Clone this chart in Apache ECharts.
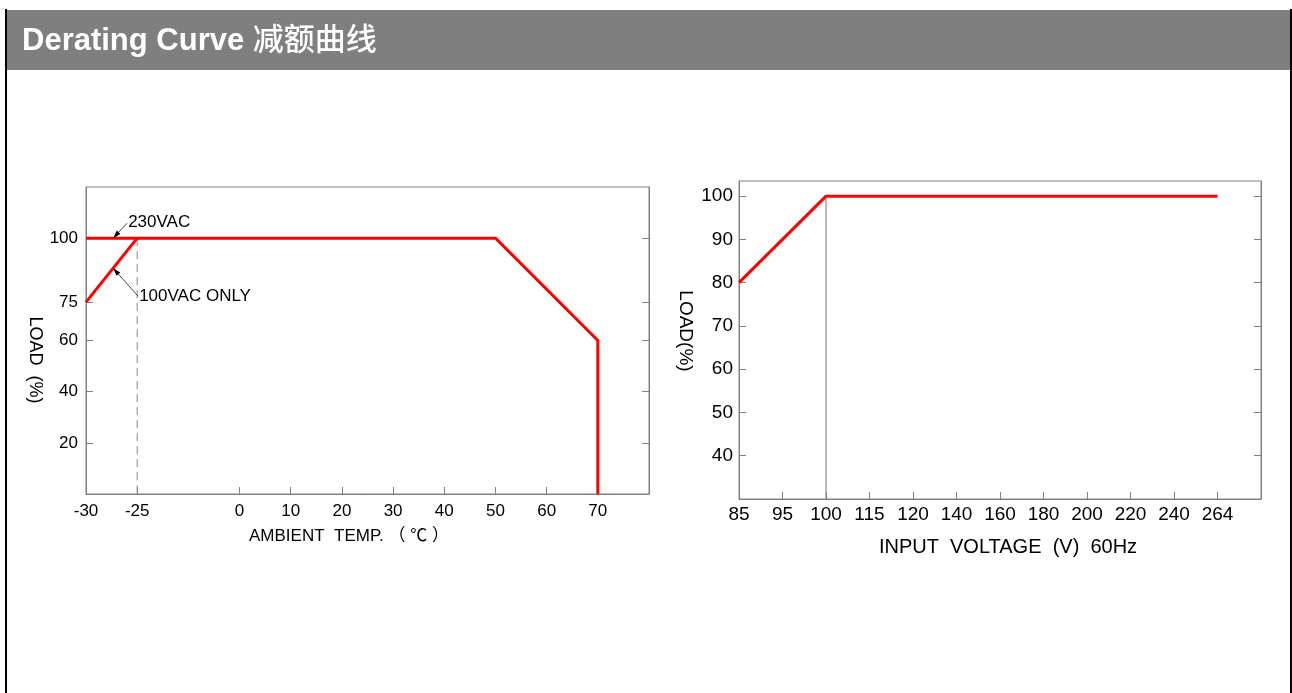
<!DOCTYPE html>
<html>
<head>
<meta charset="utf-8">
<script src="https://cdn.jsdelivr.net/npm/echarts@6/dist/echarts.min.js"></script>
<style>
html,body{margin:0;padding:0;background:#fff;}
#c{width:1292px;height:693px;}
</style>
</head>
<body>
<div id="c"></div>
<script>
// ---- data ----
const tempLabels = ['-30','-25','','0','10','20','30','40','50','60','70',' '];
const loadTicksLeft = [20,40,60,75,100];
const temp230 = ['-30','50','70','70'];
const load230 = [100,100,60,0];
const temp100 = ['-30','-25'];
const load100 = [75,100];
const refTemp = ['-25','-25'];
const refTempLoad = [100,0];

const voltLabels = ['85','95','100','115','120','140','160','180','200','220','240','264',' '];
const loadTicksRight = [40,50,60,70,80,90,100];
const voltCurve = ['85','100','264'];
const voltLoad = [80,100,100];
const refVolt = ['100','100'];
const refVoltLoad = [100,30];

const FONT = "'Liberation Sans', Arial, 'Noto Sans CJK SC', sans-serif";
const GRAY = '#808080';

function pairs(xs, ys){ return xs.map((x,i)=>[x, ys[i]]); }

const chart = echarts.init(document.getElementById('c'), null, {renderer:'canvas'});

const xBase = (labels, fs, margin) => ({
  type:'category', boundaryGap:false, data:labels,
  axisLine:{show:true, lineStyle:{color:GRAY, width:1}},
  axisTick:{show:true, inside:true, length:7, lineStyle:{color:GRAY},
    interval:(i, v)=> String(v).trim() !== ''},
  axisLabel:{show:true, interval:0, color:'#000', fontSize:fs, fontFamily:FONT, margin:margin},
  splitLine:{show:false}
});
const yBase = (min, max, ticks, fs, pos, showLabel, margin) => ({
  type:'value', min:min, max:max, position:pos,
  axisLine:{show:true, onZero:false, lineStyle:{color:GRAY, width:1}},
  axisTick:{show:true, inside:true, length:7, customValues:ticks, lineStyle:{color:GRAY}},
  axisLabel:{show:showLabel, customValues:ticks, color:'#000', fontSize:fs, fontFamily:FONT, margin:margin},
  splitLine:{show:false}
});

chart.setOption({
  animation:false,
  backgroundColor:'#fff',
  grid:[
    {left:86, top:187, width:563, height:307, show:true, borderColor:GRAY, borderWidth:1, backgroundColor:'transparent'},
    {left:739, top:181, width:522, height:318, show:true, borderColor:GRAY, borderWidth:1, backgroundColor:'transparent'}
  ],
  xAxis:[
    Object.assign(xBase(tempLabels, 17, 9), {gridIndex:0}),
    Object.assign(xBase(voltLabels, 19, 6), {gridIndex:1})
  ],
  yAxis:[
    Object.assign(yBase(0,120,loadTicksLeft,17,'left',true,8), {gridIndex:0}),
    Object.assign(yBase(0,120,loadTicksLeft,17,'right',false,8), {gridIndex:0}),
    Object.assign(yBase(30,103.5,loadTicksRight,19,'left',true,6), {gridIndex:1}),
    Object.assign(yBase(30,103.5,loadTicksRight,19,'right',false,6), {gridIndex:1})
  ],
  series:[
    {type:'line', xAxisIndex:0, yAxisIndex:0, data:pairs(refTemp, refTempLoad), symbol:'none', silent:true,
      lineStyle:{color:'#888', width:1, type:[8,5]}, z:1},
    {type:'line', xAxisIndex:0, yAxisIndex:0, data:pairs(temp230, load230), symbol:'none',
      lineStyle:{color:'#ff0000', width:3}, z:3},
    {type:'line', xAxisIndex:0, yAxisIndex:0, data:pairs(temp100, load100), symbol:'none',
      lineStyle:{color:'#ff0000', width:3}, z:3},
    {type:'line', xAxisIndex:1, yAxisIndex:2, data:pairs(refVolt, refVoltLoad), symbol:'none',
      lineStyle:{color:'#777', width:1}, z:1},
    {type:'line', xAxisIndex:1, yAxisIndex:2, data:pairs(voltCurve, voltLoad), symbol:'none',
      lineStyle:{color:'#ff0000', width:3}, z:3}
  ]
});

// annotation anchors, derived from data coordinates
function px(grid, x, y){ return chart.convertToPixel({gridIndex:grid}, [tempLabels.indexOf(x), y]); }
function lerp(a,b,t){ return [a[0]+(b[0]-a[0])*t, a[1]+(b[1]-a[1])*t]; }
function arrowHead(tip, from, len, hw){
  const dx = tip[0]-from[0], dy = tip[1]-from[1];
  const d = Math.sqrt(dx*dx+dy*dy); const ux = dx/d, uy = dy/d;
  const bx = tip[0]-ux*len, by = tip[1]-uy*len;
  return [[tip[0],tip[1]],[bx-uy*hw, by+ux*hw],[bx+uy*hw, by-ux*hw]];
}

const a230 = lerp(px(0,'-30',100), px(0,'-25',100), 0.53);
const a100 = lerp(px(0,'-30',75), px(0,'-25',100), 0.53);
const t230 = [a230[0]+15, a230[1]-16];
const t100 = [a100[0]+26, a100[1]+28];

const g = [
  {type:'rect', shape:{x:7, y:10, width:1283, height:60}, style:{fill:'#7f7f7f'}, z:0},
  {type:'line', shape:{x1:6, y1:9, x2:6, y2:700}, style:{stroke:'#000', lineWidth:2}},
  {type:'line', shape:{x1:1291, y1:9, x2:1291, y2:700}, style:{stroke:'#000', lineWidth:2}},
  {type:'text', x:22, y:41, style:{
    text:'{a|Derating Curve }{b|减额曲线}',
    rich:{
      a:{fill:'#fff', fontWeight:'bold', fontSize:31, fontFamily:"'Liberation Sans', Arial, sans-serif"},
      b:{fill:'#fff', fontWeight:500, fontSize:31, fontFamily:"'Noto Sans CJK SC', sans-serif", padding:[0,0,5,0]}
    },
    verticalAlign:'middle'}},
  // axis names
  {type:'text', x:349, y:536, style:{text:'AMBIENT  TEMP. （ ℃ ）', fill:'#000', font:"17px " + FONT, align:'center', verticalAlign:'middle'}},
  {type:'text', x:35, y:360, rotation:-Math.PI/2, style:{text:'LOAD  (%)', fill:'#000', font:"18px " + FONT, align:'center', verticalAlign:'middle'}},
  {type:'text', x:1008, y:547, style:{text:'INPUT  VOLTAGE  (V)  60Hz', fill:'#000', font:"20px " + FONT, align:'center', verticalAlign:'middle'}},
  {type:'text', x:685, y:331, rotation:-Math.PI/2, style:{text:'LOAD(%)', fill:'#000', font:"19px " + FONT, align:'center', verticalAlign:'middle'}},
  // annotations
  {type:'line', shape:{x1:t230[0]-1, y1:t230[1]+1, x2:a230[0], y2:a230[1]}, style:{stroke:'#444', lineWidth:1}, z:10},
  {type:'polygon', shape:{points:arrowHead(a230, [t230[0]-1, t230[1]+1], 8, 2.5)}, style:{fill:'#000'}, z:10},
  {type:'text', x:t230[0], y:t230[1], style:{text:'230VAC', fill:'#000', font:"17px " + FONT, verticalAlign:'middle'}, z:10},
  {type:'line', shape:{x1:t100[0]-1, y1:t100[1], x2:a100[0], y2:a100[1]}, style:{stroke:'#444', lineWidth:1}, z:10},
  {type:'polygon', shape:{points:arrowHead(a100, [t100[0]-1, t100[1]], 8, 2.5)}, style:{fill:'#000'}, z:10},
  {type:'text', x:t100[0], y:t100[1], style:{text:'100VAC ONLY', fill:'#000', font:"17px " + FONT, verticalAlign:'middle'}, z:10}
];
chart.setOption({graphic:{elements:g}});
</script>
</body>
</html>
